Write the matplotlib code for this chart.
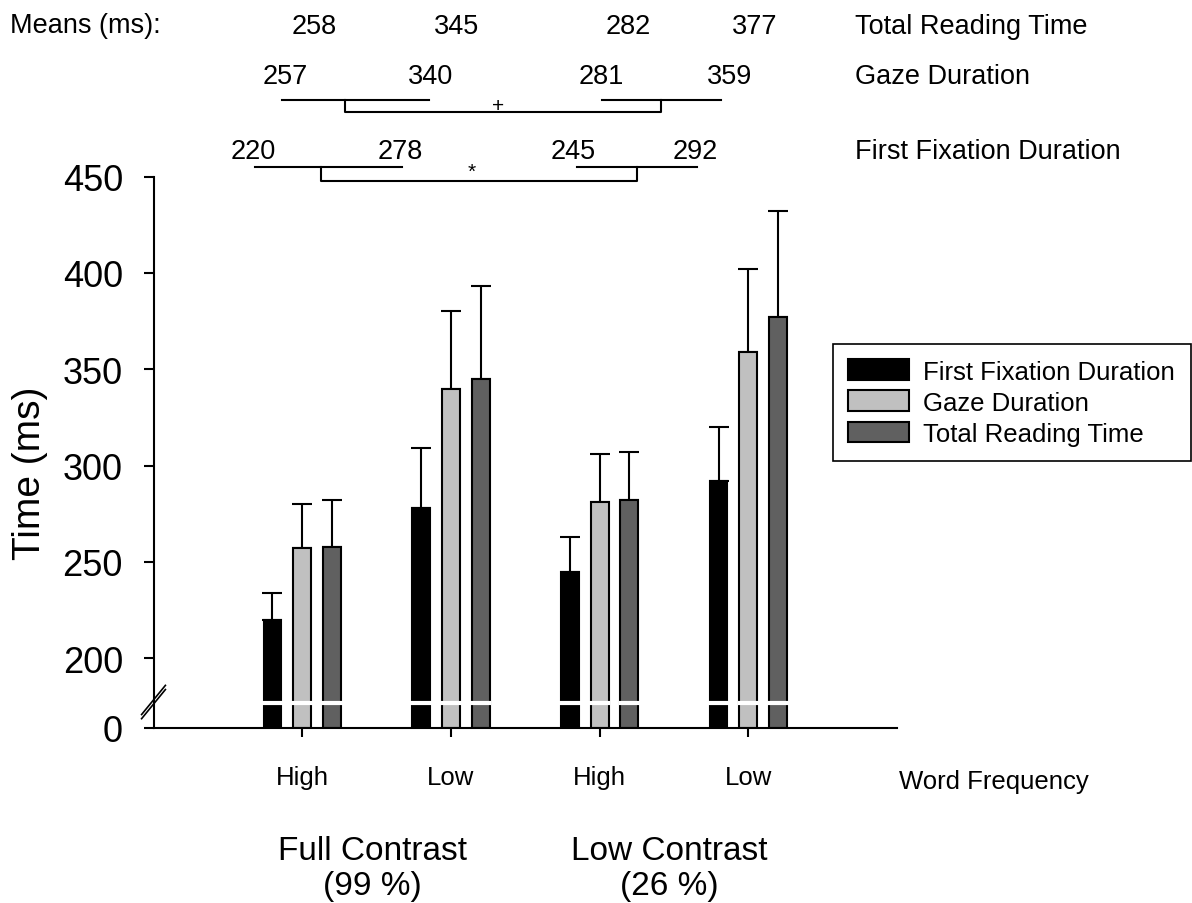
import matplotlib
matplotlib.use("Agg")
import matplotlib.pyplot as plt
import numpy as np

plt.rcParams["font.family"] = ["Liberation Sans", "DejaVu Sans"]

# data
conditions = ["High", "Low", "High", "Low"]
contrast_labels = ["Full Contrast\n(99 %)", "Low Contrast\n(26 %)"]
series_names = ["First Fixation Duration", "Gaze Duration", "Total Reading Time"]
ffd = [220, 278, 245, 292]
gd = [257, 340, 281, 359]
trt = [258, 345, 282, 377]
ffd_err = [14, 31, 18, 28]
gd_err = [23, 40, 25, 43]
trt_err = [24, 48, 25, 55]
colors = ["#000000", "#c0c0c0", "#606060"]

W, H = 1192, 904
brk = 164.0  # where 0 sits on the broken axis (in 200+ units)


def px(x, y):
    # pixel position -> figure fraction
    return x / W, 1 - y / H


def fwd(v):
    v = np.asarray(v, dtype=float)
    return np.where(v >= 200, v, brk + v * (200 - brk) / 200)


def inv(u):
    u = np.asarray(u, dtype=float)
    return np.where(u >= 200, u, (u - brk) * 200 / (200 - brk))


fig = plt.figure(figsize=(W / 100, H / 100), dpi=100)
ax = fig.add_axes([153.5 / W, 1 - 728.7 / H, 743.5 / W, 551.2 / H])
ax.set_yscale("function", functions=(fwd, inv))

x = np.arange(1, len(conditions) + 1)
width = 0.12
offs = [-0.2, 0.0, 0.2]
bars = []
for vals, errs, off, c, name in zip([ffd, gd, trt], [ffd_err, gd_err, trt_err],
                                    offs, colors, series_names):
    b = ax.bar(x + off, vals, width, color=c, edgecolor="black", linewidth=1.5,
               label=name, zorder=2)
    bars.append(b)
    ax.errorbar(x + off, vals, yerr=[np.zeros(len(vals)), errs], fmt="none",
                ecolor="black", elinewidth=1.5, capsize=7, capthick=1.5, zorder=1)
    # white break across every bar
    ax.hlines(np.full(len(x), 70), x + off - width / 2 - 0.012,
              x + off + width / 2 + 0.012, color="white", linewidth=3, zorder=3)

ax.set_xlim(0, 5)
ax.set_ylim(0, 450)
ax.set_yticks([0, 200, 250, 300, 350, 400, 450])
ax.set_yticklabels(["0", "200", "250", "300", "350", "400", "450"])
ax.yaxis.set_minor_locator(matplotlib.ticker.NullLocator())
ax.set_xticks(x)
ax.set_xticklabels(conditions)
ax.tick_params(axis="y", labelsize=26, length=7, width=1.5, pad=15)
ax.tick_params(axis="x", labelsize=18.5, length=6.5, width=1.5, pad=20)
for s in ["top", "right"]:
    ax.spines[s].set_visible(False)
for s in ["left", "bottom"]:
    ax.spines[s].set_linewidth(1.5)

# // marks on the y axis
tr = ax.get_yaxis_transform()
for dy in [-6, 6]:
    ax.plot([-0.016, 0.016], [32 + dy, 116 + dy], color="black", lw=1.2,
            transform=tr, clip_on=False, zorder=5)

# axis labels
fig.text(*px(30, 473), "Time (ms)", rotation=90, ha="center", va="center", fontsize=28)
fig.text(*px(899, 782), "Word Frequency", ha="left", va="center", fontsize=18.5)
for i, lab in enumerate(contrast_labels):
    ax.text(1.47 + 2 * i, -0.255, lab, transform=ax.get_xaxis_transform(),
            ha="center", va="center", fontsize=24, linespacing=1.15)

# means printed above the plot
fig.text(*px(10, 26), "Means (ms):", ha="left", va="center", fontsize=19.5)
rows = [(trt, 27, [314, 457, 628, 755]),
        (gd, 77, [285, 431, 601, 730]),
        (ffd, 152, [253, 400, 573, 695])]
for vals, yy, xs in rows:
    for v, xx in zip(vals, xs):
        fig.text(*px(xx, yy), "%d" % v, ha="center", va="center", fontsize=19.5)
for name, yy in zip(series_names[::-1], [27, 77, 152]):
    fig.text(*px(855, yy), name, ha="left", va="center", fontsize=19.5)


def bracket(y_line, y_low, left, right, legs, mark, mark_xy):
    for a, b in [left, right]:
        fig.add_artist(plt.Line2D([a / W, b / W], [1 - y_line / H] * 2, color="black",
                                  lw=1.5, transform=fig.transFigure))
    xs = [legs[0], legs[0], legs[1], legs[1]]
    ys = [y_line, y_low, y_low, y_line]
    fig.add_artist(plt.Line2D([v / W for v in xs], [1 - v / H for v in ys],
                              color="black", lw=1.5, transform=fig.transFigure))
    fig.text(*px(*mark_xy), mark, ha="center", va="center", fontsize=15)


bracket(100.5, 113, (282, 429), (602, 721), (345, 661), "+", (498, 106))
bracket(167.5, 181.5, (255, 402), (577, 697), (321, 637), "*", (472, 172))

leg = ax.legend(handles=bars, loc="upper left", bbox_to_anchor=px(833, 345),
                bbox_transform=fig.transFigure, fontsize=18.5, frameon=True,
                fancybox=False, framealpha=1, edgecolor="black", borderaxespad=0,
                handlelength=2.35, handleheight=0.85, handletextpad=0.57,
                labelspacing=0.27, borderpad=0.6)
leg.get_frame().set_linewidth(1.2)

fig.savefig("out.png", dpi=100)
